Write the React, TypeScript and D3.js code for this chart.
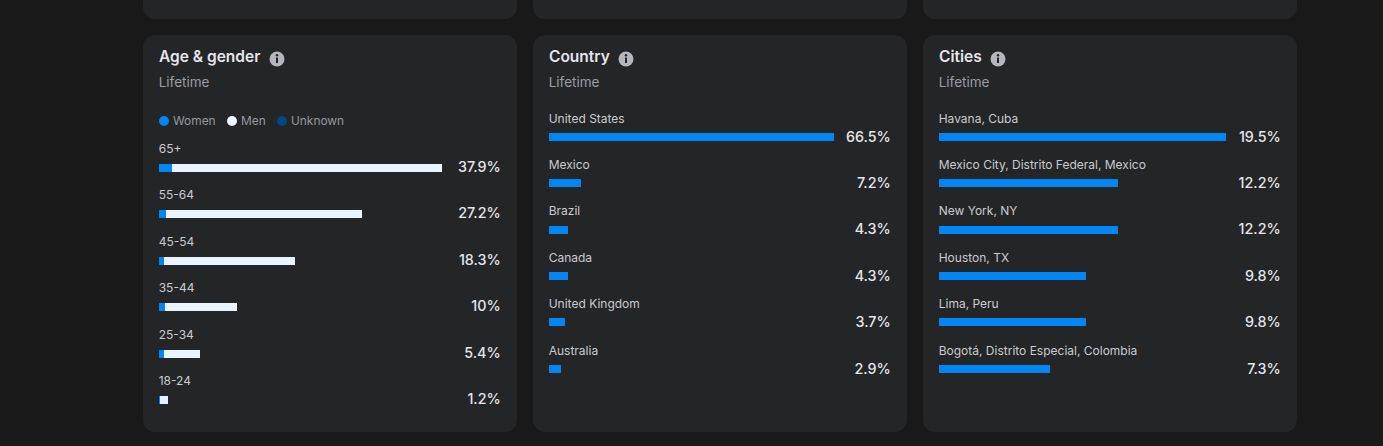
import React from "react";
import * as d3 from "d3";

const ageGroups = ["65+", "55-64", "45-54", "35-44", "25-34", "18-24"];
const womenValues = [1.75, 0.95, 0.7, 0.85, 0.65, 0.15];
const menValues = [36.15, 26.25, 17.5, 9.6, 4.85, 1.05];
const ageLabels = ["37.9%", "27.2%", "18.3%", "10%", "5.4%", "1.2%"];
const legendNames = ["Women", "Men", "Unknown"];

const countries = ["United States", "Mexico", "Brazil", "Canada", "United Kingdom", "Australia"];
const countryValues = [66.5, 7.45, 4.4, 4.4, 3.7, 2.8];
const countryLabels = ["66.5%", "7.2%", "4.3%", "4.3%", "3.7%", "2.9%"];

const cities = ["Havana, Cuba", "Mexico City, Distrito Federal, Mexico", "New York, NY", "Houston, TX", "Lima, Peru", "Bogotá, Distrito Especial, Colombia"];
const cityValues = [19.5, 12.15, 12.15, 10, 10, 7.55];
const cityLabels = ["19.5%", "12.2%", "12.2%", "9.8%", "9.8%", "7.3%"];

const FONT = "Inter, 'Noto Sans', sans-serif";
const BLUE = "#0286f4";
const MEN = "#e9f4fe";
const UNKNOWN = "#06458a";
const CARD = "#242527";

function Card({ x, title, iconX }: { x: number; title: string; iconX: number }) {
  return (
    <g>
      <rect x={x} y={-40} width={374} height={59} rx={12} fill={CARD} />
      <rect x={x} y={35} width={374} height={397} rx={12} fill={CARD} />
      <text x={x + 16} y={62} fontSize={15.5} fontWeight={600} fill="#e4e6eb">{title}</text>
      <circle cx={iconX} cy={59} r={7.5} fill="#b4b6bb" />
      <circle cx={iconX} cy={55.3} r={1.2} fill={CARD} />
      <rect x={iconX - 1} y={57.5} width={2} height={5.5} fill={CARD} />
      <text x={x + 15.7} y={87} fontSize={13.5} fill="#9a9da2">Lifetime</text>
    </g>
  );
}

function BarRows({ x, names, labels, firstY, labelOffset, valueOffset, parts, scale }: {
  x: number; names: string[]; labels: string[]; firstY: number; labelOffset: number; valueOffset: number;
  parts: { values: number[]; color: string }[]; scale: d3.ScaleLinear<number, number>;
}) {
  const y = d3.scalePoint<string>().domain(names).range([firstY, firstY + 232]);
  const stack = d3.stack<number>()
    .keys(parts.map((_, i) => String(i)))
    .value((i, k) => parts[+k].values[i])(names.map((_, i) => i));
  return (
    <g>
      {names.map((n, i) => {
        const rowY = y(n)!;
        const top = Math.round(rowY);
        return (
          <g key={n}>
            <text x={x + 15.7} y={Math.round(rowY + labelOffset)} fontSize={12} fill="#c9cbcf">{n}</text>
            {stack.map((s, k) => {
              const x0 = Math.round(scale(s[i][0]));
              const x1 = Math.round(scale(s[i][1]));
              return <rect key={k} x={x0} y={top} width={x1 - x0} height={8} fill={parts[k].color} />;
            })}
            <text x={x + 357.7} y={Math.round(rowY + valueOffset)} textAnchor="end" fontSize={14.3} fontWeight={500} fill="#e4e6eb">{labels[i]}</text>
          </g>
        );
      })}
    </g>
  );
}

export default function App() {
  const ageScale = d3.scaleLinear().domain([0, 37.9]).range([159, 442]);
  const countryScale = d3.scaleLinear().domain([0, 66.5]).range([549, 834]);
  const cityScale = d3.scaleLinear().domain([0, 19.5]).range([939, 1226]);
  const legendX = [164, 232, 282];
  const legendColors = [BLUE, "#eef5fd", UNKNOWN];
  return (
    <svg width={1383} height={446} style={{ position: "absolute", left: 0, top: 0, fontFamily: FONT }}>
      <rect width={1383} height={446} fill="#19191a" />
      <Card x={143} title="Age & gender" iconX={277} />
      <Card x={533} title="Country" iconX={626} />
      <Card x={923} title="Cities" iconX={998} />
      {legendNames.map((n, i) => (
        <g key={n}>
          <circle cx={legendX[i]} cy={121} r={5} fill={legendColors[i]} />
          <text x={legendX[i] + 9} y={125} fontSize={11.9} fill="#95989d">{n}</text>
        </g>
      ))}
      <BarRows x={143} names={ageGroups} labels={ageLabels} firstY={164} labelOffset={-11} valueOffset={8}
        parts={[{ values: womenValues, color: BLUE }, { values: menValues, color: MEN }]} scale={ageScale} />
      <BarRows x={533} names={countries} labels={countryLabels} firstY={132.7} labelOffset={-10.1} valueOffset={8.8}
        parts={[{ values: countryValues, color: BLUE }]} scale={countryScale} />
      <BarRows x={923} names={cities} labels={cityLabels} firstY={132.7} labelOffset={-10.1} valueOffset={8.8}
        parts={[{ values: cityValues, color: BLUE }]} scale={cityScale} />
    </svg>
  );
}
